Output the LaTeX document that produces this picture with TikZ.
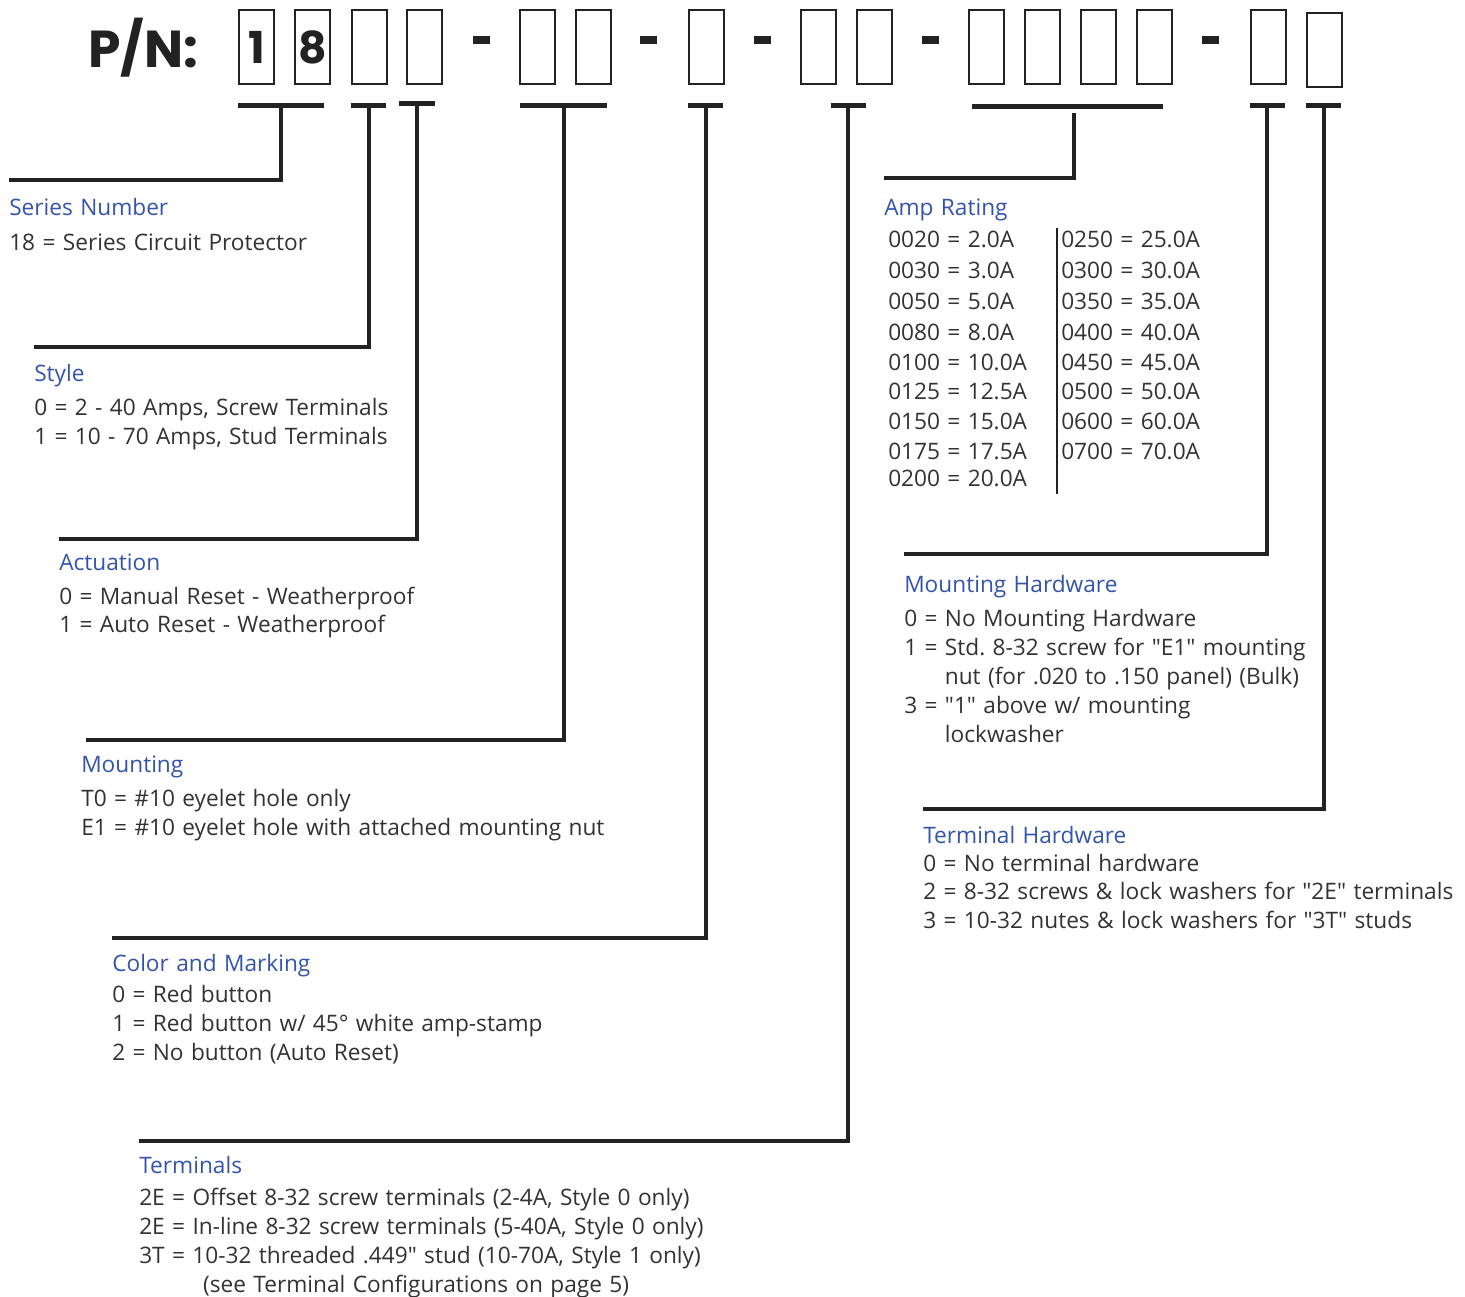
\documentclass[tikz,border=0pt]{standalone}
\usepackage{fontspec}
\setmainfont{Open Sans}[Ligatures=TeXOff, WordSpace=1.25]
\newfontfamily\pnfont{Poppins}
\usetikzlibrary{positioning}
\definecolor{headblue}{RGB}{52,84,172}
\definecolor{txtgray}{RGB}{50,50,50}
\definecolor{linecol}{RGB}{34,34,34}

\tikzset{
  digitbox/.style={draw=linecol, line width=1.5pt, minimum width=26.25pt,
    minimum height=55.5pt, inner sep=0pt, anchor=north west,
    font=\pnfont\bfseries\fontsize{33}{33}\selectfont, text=linecol},
  head/.style={anchor=base west, inner sep=0pt, text=headblue,
    font=\fontsize{17}{20}\selectfont},
  item/.style={anchor=base west, inner sep=0pt, text=txtgray,
    font=\fontsize{17}{20}\selectfont\frenchspacing},
  lead/.style={draw=linecol, line width=2.3pt, line join=miter},
  bar/.style={fill=linecol}
}

\begin{document}
\begin{tikzpicture}[x=0.75pt,y=-0.75pt]
\useasboundingbox (0,0) rectangle (1465,1297);

% part number header
\node[anchor=base west, inner sep=0pt, text=linecol,
  font=\pnfont\bfseries\fontsize{39}{39}\selectfont] (pn) at (88,67) {P/N:};

\foreach \bx [count=\i] in {238,294,351,406,519,575,688,800,856,968,1024,1080,1136,1250}
  \node[digitbox] (d\i) at (\bx,9) {};
\node[digitbox] (d15) at (1306,12) {};
\node[text=linecol, font=\pnfont\bfseries\fontsize{33}{33}\selectfont] (n1) at (d1) {1};
\node[text=linecol, font=\pnfont\bfseries\fontsize{33}{33}\selectfont] (n8) at (d2) {8};

% dashes between groups
\foreach \dx in {473,640,754,922,1202}
  \fill[linecol] (\dx,36) rectangle ++(17,8);

% bars under the digit groups
\foreach \ax/\bx/\by in {238/324/105,351/386/105,399/435/103,520/607/105,688/723/105,
    831/866/105,972/1163/106,1250/1285/105,1306/1341/105}
  \fill[bar] (\ax,\by-2.5) rectangle (\bx,\by+2.5);

% leaders down to each field
\foreach \n/\tx/\ty/\ex/\ey in {1/281/105/9/180, 2/369/105/34/347, 3/417/103/59/539,
    4/564/105/86/740, 5/706/105/112/938, 6/848/105/139/1141, 7/1074/113/884/178,
    8/1267/105/904/554, 9/1324/105/923/809} {
  \coordinate (top\n) at (\tx,\ty);
  \coordinate (end\n) at (\ex,\ey);
  \draw[lead] (top\n) |- (end\n);
}

% Series Number
\node[head] (ser) at (9,215) {Series Number};
\node[item] (ser1) at (9,250) {18 = Series Circuit Protector};

% Style
\node[head] (sty) at (34,381) {Style};
\foreach \txt [count=\i] in {{0 = 2 - 40 Amps, Screw Terminals},{1 = 10 - 70 Amps, Stud Terminals}}
  \node[item] (sty\i) at (34,386+29*\i) {\txt};

% Actuation
\node[head] (act) at (59,570) {Actuation};
\foreach \txt [count=\i] in {{0 = Manual Reset - Weatherproof},{1 = Auto Reset - Weatherproof}}
  \node[item] (act\i) at (59,576+28*\i) {\txt};

% Mounting
\node[head] (mnt) at (81,772) {Mounting};
\foreach \txt [count=\i] in {{T0 = \#10 eyelet hole only},{E1 = \#10 eyelet hole with attached mounting nut}}
  \node[item] (mnt\i) at (81,777+29*\i) {\txt};

% Color and Marking
\node[head] (col) at (112,971) {Color and Marking};
\foreach \txt [count=\i] in {{0 = Red button},{1 = Red button w/ 45° white amp-stamp},{2 = No button (Auto Reset)}}
  \node[item] (col\i) at (112,973+29*\i) {\txt};

% Terminals
\node[head] (trm) at (139,1173) {Terminals};
\foreach \txt [count=\i] in {{2E = Offset 8-32 screw terminals (2-4A, Style 0 only)},
    {2E = In-line 8-32 screw terminals (5-40A, Style 0 only)},
    {3T = 10-32 threaded .449" stud (10-70A, Style 1 only)},
    {\phantom{2E = }\hspace{8pt}(see Terminal Configurations on page 5)}}
  \node[item] (trm\i) at (139,1176+29*\i) {\txt};

% Amp Rating
\node[head] (amp) at (884,215) {Amp Rating};
\foreach \txt/\yy [count=\i] in {0020 = 2.0A/247, 0030 = 3.0A/278, 0050 = 5.0A/309,
    0080 = 8.0A/340, 0100 = 10.0A/370, 0125 = 12.5A/399, 0150 = 15.0A/429,
    0175 = 17.5A/459, 0200 = 20.0A/486}
  \node[item] (ampl\i) at (888,\yy) {\txt};
\foreach \txt/\yy [count=\i] in {0250 = 25.0A/247, 0300 = 30.0A/278, 0350 = 35.0A/309,
    0400 = 40.0A/340, 0450 = 45.0A/370, 0500 = 50.0A/399, 0600 = 60.0A/429,
    0700 = 70.0A/459}
  \node[item] (ampr\i) at (1061,\yy) {\txt};
\coordinate (sepa) at (1057,228);
\coordinate (sepb) at (1057,494);
\draw[linecol, line width=1.8pt] (sepa) -- (sepb);

% Mounting Hardware
\node[head] (mhw) at (904,592) {Mounting Hardware};
\foreach \txt [count=\i] in {{0 = No Mounting Hardware},{1 = Std. 8-32 screw for "E1" mounting},
    {\phantom{1 = }nut (for .020 to .150 panel) (Bulk)},{3 = "1" above w/ mounting},
    {\phantom{3 = }lockwasher}}
  \node[item] (mhw\i) at (904,597+29*\i) {\txt};

% Terminal Hardware
\node[head] (thw) at (923,843) {Terminal Hardware};
\foreach \txt [count=\i] in {{0 = No terminal hardware},{2 = 8-32 screws \& lock washers for "2E" terminals},
    {3 = 10-32 nutes \& lock washers for "3T" studs}}
  \node[item] (thw\i) at (923,842.5+28.5*\i) {\txt};
\end{tikzpicture}
\end{document}
